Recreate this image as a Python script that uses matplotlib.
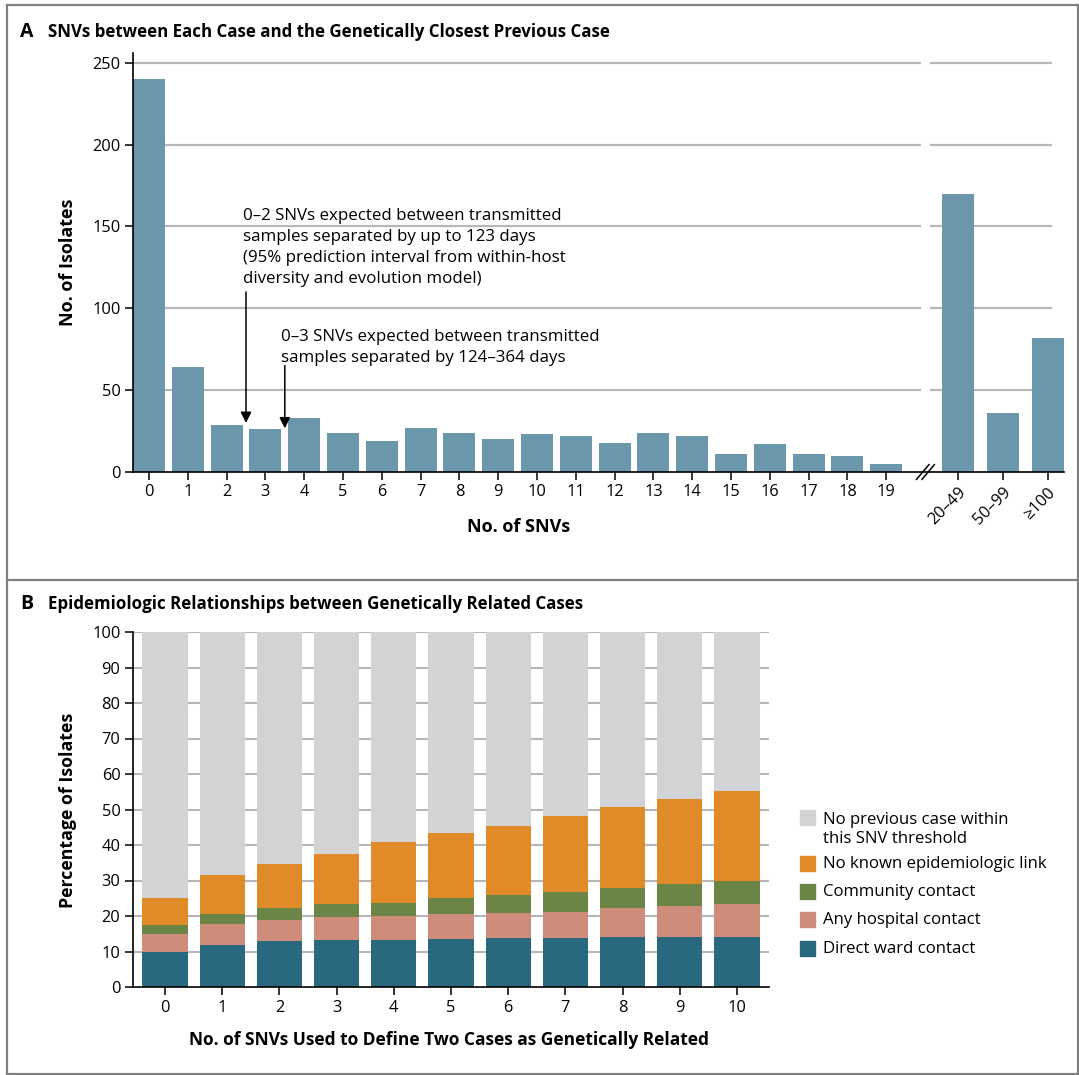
import matplotlib
matplotlib.use("Agg")
import matplotlib.pyplot as plt
import matplotlib.font_manager as fm
from matplotlib.lines import Line2D
from matplotlib.patches import Rectangle
import numpy as np

# ---------------- data ----------------
snv_labels = [str(i) for i in range(20)] + ["20–49", "50–99", "≥100"]
isolate_counts = [240, 64, 29, 26, 33, 24, 19, 27, 24, 20, 23, 22, 18, 24, 22,
                  11, 17, 11, 10, 5, 170, 36, 82]

threshold_labels = [str(i) for i in range(11)]
direct_ward = [10.0, 11.9, 13.0, 13.2, 13.3, 13.6, 13.8, 13.8, 14.0, 14.1, 14.1]
any_hospital = [4.9, 5.9, 5.9, 6.6, 6.6, 7.1, 7.0, 7.4, 8.2, 8.7, 9.2]
community = [2.5, 2.9, 3.3, 3.6, 3.9, 4.4, 5.2, 5.7, 5.7, 6.1, 6.7]
no_known_link = [7.7, 10.9, 12.5, 14.0, 17.0, 18.3, 19.4, 21.3, 22.8, 24.0, 25.2]

legend_labels = ["No previous case within\nthis SNV threshold",
                 "No known epidemiologic link",
                 "Community contact",
                 "Any hospital contact",
                 "Direct ward contact"]

# ---------------- style ----------------
names = {f.name for f in fm.fontManager.ttflist}
BODY = "Open Sans" if "Open Sans" in names else "DejaVu Sans"
plt.rcParams["font.family"] = [BODY, "DejaVu Sans"]

C_BAR = "#6a97ab"
C_GRID = "#b7b7b9"
C_GREY = "#d1d3d4"
C_ORANGE = "#e08a28"
C_GREEN = "#6b8546"
C_SALMON = "#cf8c7a"
C_TEAL = "#2a6880"
C_FRAME = "#808080"

W, H = 1079, 1075
fig = plt.figure(figsize=(W / 100, H / 100), dpi=100)


def fx(px):
    return px / W


def fy(py):
    return 1 - py / H


def axes_px(left, top, right, bottom):
    return fig.add_axes([fx(left), fy(bottom), (right - left) / W, (bottom - top) / H])


# outer frame and panel separator
for (x0, y0, x1, y1) in [(6.5, 4.5, 6.5, 1074), (6.5, 4.5, 1078, 4.5),
                         (1078, 4.5, 1078, 1074), (6.5, 1074, 1078, 1074),
                         (6.5, 579.5, 1078, 579.5)]:
    fig.add_artist(Line2D([fx(x0), fx(x1)], [fy(y0), fy(y1)], color=C_FRAME, lw=1.6,
                          transform=fig.transFigure))

# ---------------- panel A ----------------
axA = axes_px(133, 53, 1064, 472)
posA = list(range(20)) + [20.85, 22.0, 23.16]
axA.set_xlim(-0.412, 23.58)
axA.set_ylim(0, 256)

brk_lo, brk_hi = 19.9, 20.13
for y in [50, 100, 150, 200, 250]:
    axA.hlines(y, -0.412, brk_lo, color=C_GRID, lw=1.6, zorder=0)
    axA.hlines(y, brk_hi, 23.27, color=C_GRID, lw=1.6, zorder=0)

axA.bar(posA, isolate_counts, width=0.825, color=C_BAR, zorder=2)

for s in ["top", "right"]:
    axA.spines[s].set_visible(False)
axA.spines["left"].set_linewidth(1.2)
axA.spines["bottom"].set_linewidth(1.2)
axA.set_yticks([0, 50, 100, 150, 200, 250])
axA.set_xticks(posA)
axA.set_xticklabels(snv_labels)
axA.tick_params(axis="both", direction="out", length=6, width=1.1, labelsize=11.8, pad=3)
for lbl in axA.get_xticklabels()[20:]:
    lbl.set_rotation(45)
    lbl.set_ha("right")
    lbl.set_rotation_mode("anchor")

# axis break marks
for dx in (0.0, 0.14):
    axA.plot([19.78 + dx, 20.1 + dx], [-4.5, 4.5], color="black", lw=1.1,
             clip_on=False, zorder=5)

# annotations
axA.annotate("", xy=(2.5, 30), xytext=(2.5, 110),
             arrowprops=dict(arrowstyle="-|>", color="black", lw=1.1,
                             mutation_scale=16, shrinkA=0, shrinkB=0))
axA.annotate("", xy=(3.5, 26.7), xytext=(3.5, 65),
             arrowprops=dict(arrowstyle="-|>", color="black", lw=1.1,
                             mutation_scale=16, shrinkA=0, shrinkB=0))
axA.text(2.42, 161.0,
         "0–2 SNVs expected between transmitted\n"
         "samples separated by up to 123 days\n"
         "(95% prediction interval from within-host\n"
         "diversity and evolution model)",
         ha="left", va="top", fontsize=12.2, linespacing=1.41)
axA.text(3.39, 87.5,
         "0–3 SNVs expected between transmitted\n"
         "samples separated by 124–364 days",
         ha="left", va="top", fontsize=12.2, linespacing=1.41)

fig.text(fx(68), fy(262), "No. of Isolates", rotation=90, ha="center", va="center",
         fontsize=13, fontweight="bold")
fig.text(fx(519), fy(527), "No. of SNVs", ha="center", va="center",
         fontsize=13, fontweight="bold")
fig.text(fx(20), fy(32), "A", ha="left", va="center", fontsize=14,
         fontweight="bold")
fig.text(fx(48), fy(32), "SNVs between Each Case and the Genetically Closest Previous Case",
         ha="left", va="center", fontsize=12.2, fontweight="bold")

# ---------------- panel B ----------------
axB = axes_px(133, 632, 769, 987)
xb = np.arange(len(threshold_labels))
axB.set_xlim(-0.56, 10.56)
axB.set_ylim(0, 100)
for y in range(10, 101, 10):
    axB.axhline(y, color=C_GRID, lw=1.5, zorder=0)

bw = 0.79
ward = np.array(direct_ward)
hosp = np.array(any_hospital)
comm = np.array(community)
link = np.array(no_known_link)
top_known = ward + hosp + comm + link
no_prev = 100 - top_known

axB.bar(xb, ward, bw, color=C_TEAL, zorder=2)
axB.bar(xb, hosp, bw, bottom=ward, color=C_SALMON, zorder=2)
axB.bar(xb, comm, bw, bottom=ward + hosp, color=C_GREEN, zorder=2)
axB.bar(xb, link, bw, bottom=ward + hosp + comm, color=C_ORANGE, zorder=2)
axB.bar(xb, no_prev, bw, bottom=top_known, color=C_GREY, zorder=2)

for s in ["top", "right"]:
    axB.spines[s].set_visible(False)
axB.spines["left"].set_linewidth(1.2)
axB.spines["bottom"].set_linewidth(1.2)
axB.set_yticks(range(0, 101, 10))
axB.set_xticks(xb)
axB.set_xticklabels(threshold_labels)
axB.tick_params(axis="both", direction="out", length=6, width=1.1, labelsize=11.8, pad=3)

fig.text(fx(68), fy(810), "Percentage of Isolates", rotation=90, ha="center", va="center",
         fontsize=12.8, fontweight="bold")
fig.text(fx(449), fy(1040), "No. of SNVs Used to Define Two Cases as Genetically Related",
         ha="center", va="center", fontsize=12.5, fontweight="bold")
fig.text(fx(20), fy(604), "B", ha="left", va="center", fontsize=14,
         fontweight="bold")
fig.text(fx(48), fy(604), "Epidemiologic Relationships between Genetically Related Cases",
         ha="left", va="center", fontsize=12.2, fontweight="bold")

# legend, drawn as swatches with labels
leg_colors = [C_GREY, C_ORANGE, C_GREEN, C_SALMON, C_TEAL]
leg_centers = [818, 863.7, 892, 920, 948.7]
text_centers = [829.5, 863.7, 892, 920, 948.7]
for col, cy, ty, lab in zip(leg_colors, leg_centers, text_centers, legend_labels):
    fig.add_artist(Rectangle((fx(800), fy(cy + 7)), 15 / W, 15 / H, color=col,
                             transform=fig.transFigure))
    fig.text(fx(823), fy(ty), lab, ha="left", va="center", fontsize=12.1,
             linespacing=1.3)

fig.savefig("out.png", dpi=100)
